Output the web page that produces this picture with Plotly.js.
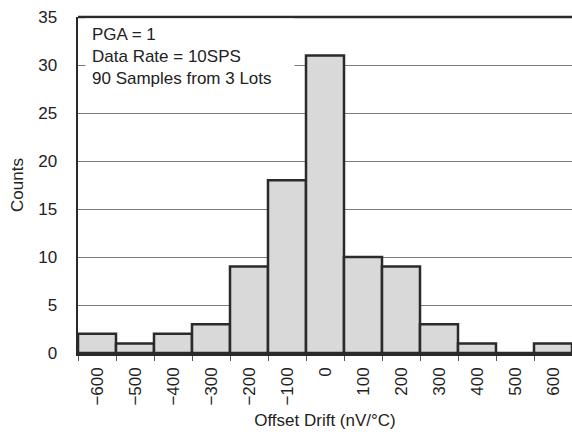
<!DOCTYPE html>
<html>
<head>
<meta charset="utf-8">
<script src="https://cdn.plot.ly/plotly-3.0.1.min.js"></script>
<style>html,body{margin:0;padding:0;background:#fff;}#chart{width:572px;height:435px;}</style>
</head>
<body>
<div id="chart"></div>
<script>
// Bin centers (nV/°C) and counts
var binCenters = [-600, -500, -400, -300, -200, -100, 0, 100, 200, 300, 400, 500, 600];
var counts = [2, 1, 2, 3, 9, 18, 31, 10, 9, 3, 1, 0, 1];
var binWidth = 100;
var tickLabels = ["\u2212600", "\u2212500", "\u2212400", "\u2212300", "\u2212200", "\u2212100", "0", "100", "200", "300", "400", "500", "600"];
var yTicks = [0, 5, 10, 15, 20, 25, 30, 35];
var noteLines = ["PGA = 1", "Data Rate = 10SPS", "90 Samples from 3 Lots"];

var edges = binCenters.map(function (c) { return c - binWidth / 2; });
edges.push(binCenters[binCenters.length - 1] + binWidth / 2);

var font = "Liberation Sans, Arial, Helvetica, sans-serif";
var dark = "#2a2a2a";
var txt = "#222";

var trace = {
  type: "bar",
  x: binCenters,
  y: counts,
  width: binWidth,
  marker: { color: "#d9d9d9", line: { color: dark, width: 2.5 } },
  hoverinfo: "x+y"
};

var layout = {
  width: 572,
  height: 435,
  margin: { l: 78, r: 0, t: 17, b: 82 },
  paper_bgcolor: "#ffffff",
  plot_bgcolor: "#ffffff",
  showlegend: false,
  font: { family: font, size: 17, color: txt },
  bargap: 0,
  xaxis: {
    range: [edges[0], edges[edges.length - 1]],
    tickmode: "array",
    tickvals: binCenters,
    ticktext: tickLabels,
    tickangle: -90,
    ticks: "",
    ticklabelstandoff: 5,
    showgrid: false,
    zeroline: false,
    showline: true,
    linecolor: dark,
    linewidth: 2.5,
    minor: { tickmode: "array", tickvals: edges, ticks: "outside", ticklen: 5, tickwidth: 1, tickcolor: "#555", showgrid: false },
    tickfont: { family: font, size: 17, color: txt },
    title: { text: "Offset Drift (nV/\u00b0C)", font: { family: font, size: 17, color: txt }, standoff: 10 },
    automargin: false,
    fixedrange: true
  },
  yaxis: {
    range: [0, 35],
    tickmode: "array",
    tickvals: yTicks,
    ticks: "",
    ticklabelstandoff: 15,
    showgrid: true,
    gridcolor: "#7a7a7a",
    gridwidth: 1,
    zeroline: false,
    showline: true,
    linecolor: dark,
    linewidth: 2.5,
    tickfont: { family: font, size: 17, color: txt },
    title: { text: "Counts", font: { family: font, size: 17, color: txt }, standoff: 10 },
    automargin: false,
    fixedrange: true
  },
  shapes: [
    { type: "line", xref: "paper", yref: "paper", x0: 0, x1: 1.01, y0: 1, y1: 1, line: { color: dark, width: 2.5 } }
  ],
  annotations: [
    {
      xref: "paper", yref: "paper", x: 0, y: 1,
      xanchor: "left", yanchor: "top",
      xshift: 7, yshift: -1,
      text: noteLines.join("<br>"),
      showarrow: false,
      align: "left",
      valign: "top",
      width: 196,
      height: 72,
      bgcolor: "#ffffff",
      borderpad: 6,
      font: { family: font, size: 17, color: txt }
    }
  ]
};

Plotly.newPlot("chart", [trace], layout, { displayModeBar: false, staticPlot: true });
</script>
</body>
</html>
